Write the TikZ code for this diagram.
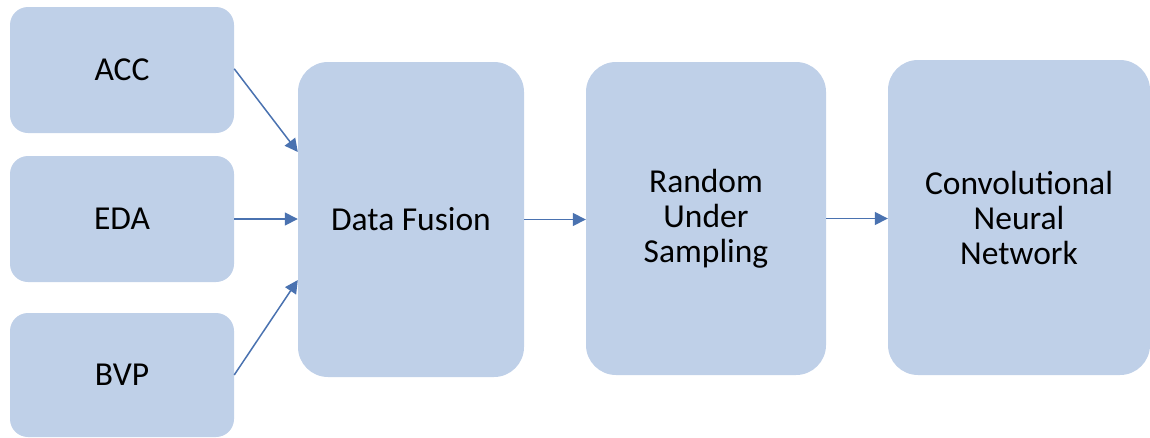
\documentclass[tikz,border=0pt]{standalone}
\usepackage{fontspec}
\setmainfont{Carlito}
\usetikzlibrary{arrows.meta,calc}
\definecolor{boxfill}{RGB}{191,208,232}
\definecolor{arrowc}{RGB}{74,114,176}
\tikzset{
  smallbox/.style={fill=boxfill, draw=none, rounded corners=18pt, minimum width=224pt, minimum height=126pt, inner sep=0pt, font=\fontsize{33.5}{35}\selectfont, align=center},
  bigbox/.style={fill=boxfill, draw=none, rounded corners=30pt, minimum height=315pt, inner sep=0pt, font=\fontsize{33.5}{35}\selectfont, align=center},
  conn/.style={draw=arrowc, line width=1.5pt, -{Triangle[length=13pt,width=13pt]}}
}
\begin{document}
\begin{tikzpicture}[x=1pt,y=-1pt]
\useasboundingbox (0,0) rectangle (1150,437);
\node[smallbox] (acc) at (122,70) {ACC};
\node[smallbox] (eda) at (122,219) {EDA};
\node[smallbox, minimum height=124pt] (bvp) at (122,375) {BVP};
\node[bigbox, minimum width=226pt] (fus) at (411,219.5) {Data Fusion};
\node[bigbox, minimum width=240pt, minimum height=313pt] (rus) at (706,218.5) {Random\\Under\\Sampling};
\node[bigbox, minimum width=262pt] (cnn) at (1019,217.5) {Convolutional\\Neural\\Network};
\coordinate (a1) at ($(fus.north west)!0.286!(fus.south west)$);
\coordinate (a3) at ($(fus.north west)!0.692!(fus.south west)$);
\draw[conn] ($(acc.north east)!0.49!(acc.south east)$) -- (a1);
\draw[conn] (eda.east) -- (eda.east -| fus.west);
\draw[conn] ($(bvp.north east)!0.5!(bvp.south east)$) -- (a3);
\draw[conn] (fus.east) -- (fus.east -| rus.west);
\draw[conn] (rus.east) -- (rus.east -| cnn.west);
\end{tikzpicture}
\end{document}
